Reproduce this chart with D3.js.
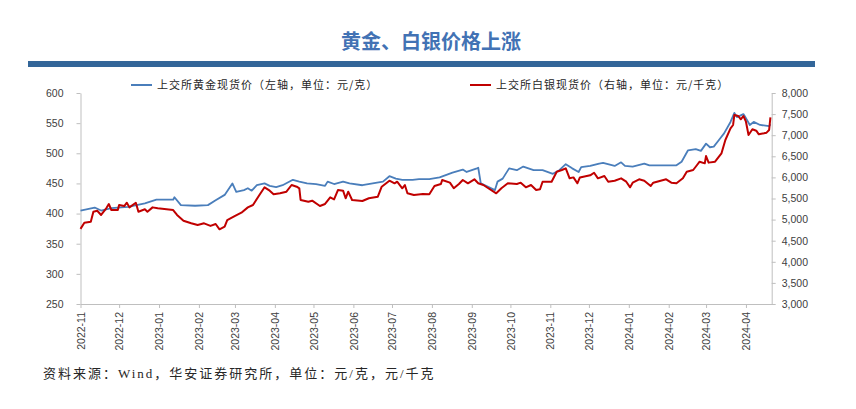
<!DOCTYPE html>
<html>
<head>
<meta charset="utf-8">
<script src="https://cdn.jsdelivr.net/npm/d3@7"></script>
<style>
  body { margin: 0; background: #fff; }
  svg { display: block; }
  .tick text { fill: #404040; font-family: "Liberation Sans", Arial, sans-serif; font-size: 10.5px; }
  .axis path, .axis line { stroke: #bfbfbf; }
</style>
</head>
<body>
<div id="chart"></div>
<script>
// Gold spot price, SGE (yuan / gram) - left axis
var goldDates = ["2022-11-01","2022-11-12","2022-11-17","2022-11-25","2022-12-08","2022-12-21","2022-12-30",
  "2023-01-12","2023-01-13","2023-01-18","2023-01-29","2023-02-08","2023-02-14","2023-02-21","2023-02-27",
  "2023-03-02","2023-03-08","2023-03-11","2023-03-14","2023-03-18","2023-03-24","2023-03-28","2023-04-02",
  "2023-04-07","2023-04-15","2023-04-20","2023-04-26","2023-05-03","2023-05-10","2023-05-12","2023-05-17",
  "2023-05-24","2023-05-29","2023-06-08","2023-06-16","2023-06-24","2023-06-29","2023-07-04","2023-07-09",
  "2023-07-17","2023-07-22","2023-07-30","2023-08-07","2023-08-17","2023-08-25","2023-08-28","2023-09-05",
  "2023-09-06","2023-09-08","2023-09-19","2023-09-21","2023-09-25","2023-09-30","2023-10-06","2023-10-11",
  "2023-10-19","2023-10-26","2023-11-03","2023-11-08","2023-11-13","2023-11-18","2023-11-23","2023-11-25",
  "2023-12-02","2023-12-09","2023-12-12","2023-12-21","2023-12-26","2023-12-29","2024-01-04","2024-01-13",
  "2024-01-17","2024-01-28","2024-02-07","2024-02-11","2024-02-16","2024-02-22","2024-02-26","2024-03-01",
  "2024-03-04","2024-03-07","2024-03-11","2024-03-15","2024-03-20","2024-03-23","2024-03-25","2024-03-30",
  "2024-03-31","2024-04-04","2024-04-07","2024-04-12","2024-04-19","2024-04-20"];
var goldPrice = [405,410,405,409,411,417,423,423,427,414,413,414,422,431,450,436,439,442,438,447,
  450,446,444,447,456,453,450,449,446,453,449,453,450,447,450,453,462,458,456,456,
  457,457,460,468,473,469,475,476,450,439,453,458,475,472,478,472,472,466,472,482,
  475,469,477,479,483,484,479,485,479,478,483,480,480,480,486,505,507,504,516,510,
  511,522,533,552,567,560,565,562,547,552,547,545,548];

// Silver spot price, SGE (yuan / kg) - right axis
var silverDates = ["2022-11-01","2022-11-04","2022-11-09","2022-11-11","2022-11-14","2022-11-17","2022-11-21",
  "2022-11-23","2022-11-25","2022-11-30","2022-12-01","2022-12-05","2022-12-07","2022-12-09","2022-12-14",
  "2022-12-16","2022-12-21","2022-12-23","2022-12-27","2022-12-31","2023-01-12","2023-01-15","2023-01-20",
  "2023-01-26","2023-01-31","2023-02-05","2023-02-10","2023-02-14","2023-02-17","2023-02-21","2023-02-23",
  "2023-02-28","2023-03-06","2023-03-11","2023-03-15","2023-03-20","2023-03-24","2023-03-28","2023-03-31",
  "2023-04-05","2023-04-10","2023-04-14","2023-04-18","2023-04-20","2023-04-21","2023-04-27","2023-04-30",
  "2023-05-06","2023-05-10","2023-05-14","2023-05-17","2023-05-20","2023-05-24","2023-05-26","2023-05-28",
  "2023-05-31","2023-06-08","2023-06-13","2023-06-20","2023-06-23","2023-06-29","2023-07-03","2023-07-05",
  "2023-07-09","2023-07-11","2023-07-13","2023-07-18","2023-07-25","2023-07-30","2023-08-03","2023-08-08",
  "2023-08-09","2023-08-15","2023-08-18","2023-08-22","2023-08-25","2023-08-29","2023-09-03","2023-09-06",
  "2023-09-10","2023-09-20","2023-09-24","2023-09-29","2023-10-06","2023-10-09","2023-10-13","2023-10-17",
  "2023-10-21","2023-10-24","2023-10-26","2023-11-02","2023-11-06","2023-11-10","2023-11-13","2023-11-16",
  "2023-11-19","2023-11-22","2023-11-24","2023-12-02","2023-12-05","2023-12-08","2023-12-13","2023-12-16",
  "2023-12-21","2023-12-26","2023-12-30","2024-01-02","2024-01-04","2024-01-09","2024-01-13","2024-01-18",
  "2024-01-20","2024-01-30","2024-02-03","2024-02-07","2024-02-12","2024-02-15","2024-02-20","2024-02-23",
  "2024-02-25","2024-02-29","2024-03-01","2024-03-03","2024-03-08","2024-03-11","2024-03-13","2024-03-16",
  "2024-03-20","2024-03-22","2024-03-23","2024-03-26","2024-03-28","2024-03-30","2024-04-01","2024-04-03",
  "2024-04-06","2024-04-09","2024-04-11","2024-04-15","2024-04-17","2024-04-19","2024-04-20"];
var silverPrice = [4780,4927,4950,5187,5210,5110,5268,5370,5227,5227,5346,5322,5400,5290,5400,
  5187,5244,5187,5290,5268,5227,5110,4974,4912,4872,4912,4850,4896,4770,4832,4990,
  5070,5164,5290,5346,5583,5765,5685,5600,5623,5662,5820,5780,5742,5465,5424,5448,
  5322,5370,5528,5480,5700,5685,5505,5662,5465,5440,5505,5543,5780,5922,5860,5898,
  5742,5820,5623,5583,5606,5600,5796,5843,5938,5875,5742,5843,5938,5860,5955,5860,
  5820,5623,5742,5860,5843,5875,5765,5820,5700,5718,5898,5898,6135,6175,6215,5978,
  6000,5860,6000,6050,6110,5978,6033,5898,5922,5978,5898,5765,5875,5955,5922,5796,
  5875,5955,5875,5860,5978,6135,6175,6294,6372,6333,6507,6350,6372,6490,6570,6886,
  7163,7242,7479,7455,7377,7455,7320,7005,7140,7107,7021,7045,7060,7123,7424];

// Axis ticks
var leftTicks = [250, 300, 350, 400, 450, 500, 550, 600];
var rightTicks = [3000, 3500, 4000, 4500, 5000, 5500, 6000, 6500, 7000, 7500, 8000];
var dateStart = "2022-11-01";
var dateEnd = "2024-04-21";

// Texts
var titleText = "黄金、白银价格上涨";
var goldLabel = "上交所黄金现货价（左轴，单位：元/克）";
var silverLabel = "上交所白银现货价（右轴，单位：元/千克）";
var sourceText = "资料来源：Wind，华安证券研究所，单位：元/克，元/千克";

///////////  SVG  ///////////
var svgWidth = 856;
var svgHeight = 409;
var plot = { left: 80.5, right: 771.7, top: 93, bottom: 304 };

var svg = d3.select("#chart").append("svg")
    .attr("width", svgWidth)
    .attr("height", svgHeight);

var parseDate = d3.timeParse("%Y-%m-%d");
var gold = goldDates.map((d, i) => ({ date: parseDate(d), value: goldPrice[i] }));
var silver = silverDates.map((d, i) => ({ date: parseDate(d), value: silverPrice[i] }));

// Scales
var xScale = d3.scaleTime()
    .domain([parseDate(dateStart), parseDate(dateEnd)])
    .range([plot.left, plot.right]);
var yLeft = d3.scaleLinear().domain([250, 600]).range([plot.bottom, plot.top]);
var yRight = d3.scaleLinear().domain([3000, 8000]).range([plot.bottom, plot.top]);

// Title + header bar
svg.append("text")
    .attr("x", 431).attr("y", 49)
    .attr("text-anchor", "middle")
    .style("font-family", "'Noto Sans CJK SC', sans-serif")
    .style("font-size", "20px")
    .style("font-weight", "700")
    .style("fill", "#4272b4")
    .text(titleText);

svg.append("rect")
    .attr("x", 28).attr("y", 61)
    .attr("width", 787).attr("height", 6)
    .attr("fill", "#336699");

// Legend
var legend = [
    { x: 131, color: "#4a7ebb", label: goldLabel },
    { x: 470, color: "#c00000", label: silverLabel }
];
var lg = svg.append("g").selectAll("g").data(legend).enter().append("g");
lg.append("line")
    .attr("x1", d => d.x).attr("x2", d => d.x + 21)
    .attr("y1", 85).attr("y2", 85)
    .attr("stroke", d => d.color)
    .attr("stroke-width", 2);
lg.append("text")
    .attr("x", d => d.x + 26).attr("y", 89)
    .style("font-family", "'Noto Sans CJK SC', sans-serif")
    .style("font-size", "11px")
    .style("letter-spacing", "1px")
    .style("fill", "#262626")
    .text(d => d.label);

// Axes
var leftAxis = d3.axisLeft(yLeft).tickValues(leftTicks).tickSizeInner(4).tickSizeOuter(0).tickPadding(13);
svg.append("g").attr("class", "axis")
    .attr("transform", `translate(${plot.left}, 0)`)
    .call(leftAxis);

var rightAxis = d3.axisRight(yRight).tickValues(rightTicks).tickSizeInner(4).tickSizeOuter(0).tickPadding(6)
    .tickFormat(d3.format(","));
svg.append("g").attr("class", "axis")
    .attr("transform", `translate(${plot.right}, 0)`)
    .call(rightAxis);

var bottomAxis = d3.axisBottom(xScale)
    .ticks(d3.timeMonth.every(1))
    .tickFormat(d3.timeFormat("%Y-%m"))
    .tickSizeInner(4).tickSizeOuter(0);
var xAxis = svg.append("g").attr("class", "axis")
    .attr("transform", `translate(0, ${plot.bottom})`)
    .call(bottomAxis);
xAxis.selectAll("text")
    .attr("transform", "rotate(-90)")
    .attr("text-anchor", "end")
    .attr("x", -8)
    .attr("y", 0)
    .attr("dy", "0.35em");

// Lines
var goldLine = d3.line().x(d => xScale(d.date)).y(d => yLeft(d.value));
var silverLine = d3.line().x(d => xScale(d.date)).y(d => yRight(d.value));

svg.append("path").datum(gold)
    .attr("d", goldLine)
    .attr("fill", "none")
    .attr("stroke", "#4a7ebb")
    .attr("stroke-width", 1.8)
    .attr("stroke-linejoin", "round");

svg.append("path").datum(silver)
    .attr("d", silverLine)
    .attr("fill", "none")
    .attr("stroke", "#c00000")
    .attr("stroke-width", 2)
    .attr("stroke-linejoin", "round");

// Source note
svg.append("text")
    .attr("x", 43).attr("y", 378)
    .style("font-family", "'Liberation Serif', 'Noto Sans CJK SC', serif")
    .style("font-size", "13px")
    .style("letter-spacing", "2px")
    .style("fill", "#262626")
    .text(sourceText);
</script>
</body>
</html>
